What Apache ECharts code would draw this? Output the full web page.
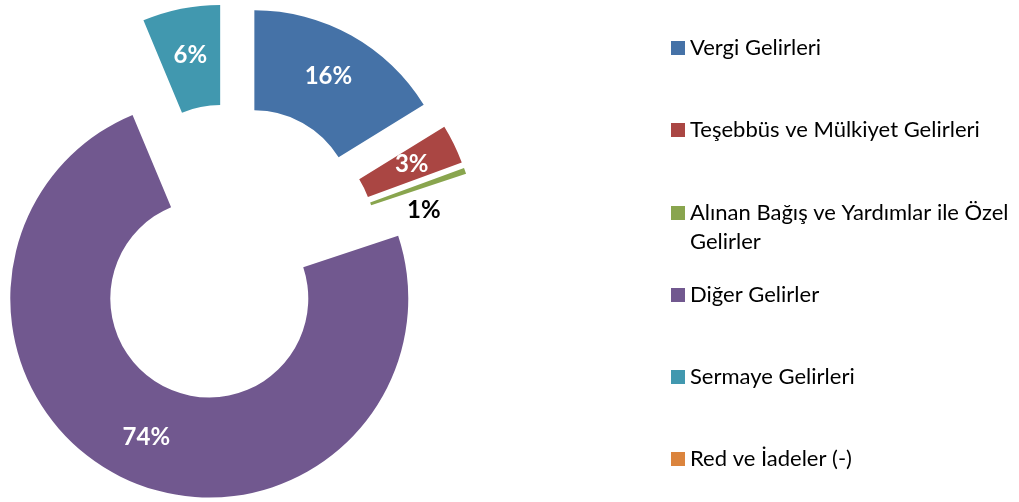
<!DOCTYPE html>
<html>
<head>
<meta charset="utf-8">
<script src="https://cdn.jsdelivr.net/npm/echarts@6/dist/echarts.min.js"></script>
<style>
  html, body { margin: 0; padding: 0; background: #fff; }
  #chart { width: 1019px; height: 502px; }
</style>
</head>
<body>
<div id="chart"></div>
<script>
// gelir kalemleri (pay, %)
const names = [
  'Vergi Gelirleri',
  'Teşebbüs ve Mülkiyet Gelirleri',
  'Alınan Bağış ve Yardımlar ile Özel Gelirler',
  'Diğer Gelirler',
  'Sermaye Gelirleri',
  'Red ve İadeler (-)'
]
const values = [16.2, 3.2, 0.5, 73.8, 6.3, 0]
const colors = ['#4572A7', '#AA4643', '#89A54E', '#71588F', '#4198AF', '#DB843D']

// legend satırlarının dikey ortası
const legendY = [48, 130, 213, 295, 377, 459]

const font = 'Lato, "Open Sans", sans-serif'

const data = names.map((name, i) => {
  const item = { name, value: values[i], selected: true, itemStyle: { color: colors[i] } }
  if (i === 2) {
    // küçük dilim: etiket dışarıda, siyah
    item.label = { position: 'outside', color: '#000' }
    item.labelLine = { show: false, length: 0, length2: 0 }
  }
  if (values[i] === 0) item.label = { show: false }
  return item
})

const legends = names.map((name, i) => {
  const twoLine = i === 2
  return {
    data: [name],
    orient: 'vertical',
    left: 671,
    top: twoLine ? legendY[i] - 43.5 : legendY[i] - 13,
    padding: 0,
    icon: 'rect',
    itemWidth: 14,
    itemHeight: 14,
    selectedMode: false,
    // boş ilk satır: ilk satır ikonla aynı hizada kalsın
    formatter: twoLine ? ' \nAlınan Bağış ve Yardımlar ile Özel\nGelirler' : '{name}',
    textStyle: { fontFamily: font, fontSize: 22, color: '#000', lineHeight: twoLine ? 29 : 26 }
  }
})

const options = {
  animation: false,
  legend: legends,
  series: [
    {
      type: 'pie',
      center: [230, 253],
      radius: [99, 199],
      startAngle: 90,
      clockwise: true,
      selectedMode: 'multiple',
      selectedOffset: 50,
      avoidLabelOverlap: false,
      percentPrecision: 0,
      label: {
        show: true,
        position: 'inside',
        formatter: '{d}%',
        color: '#fff',
        fontFamily: font,
        fontSize: 24,
        fontWeight: 'bold'
      },
      labelLine: { show: false },
      labelLayout: function (params) {
        if (params.dataIndex === 2) return { dx: -63, dy: 39 }
      },
      emphasis: { disabled: true },
      data
    }
  ]
}

const chart = echarts.init(document.getElementById('chart'))
chart.setOption(options)
window.addEventListener('resize', function () {
  chart && chart.resize()
})
</script>
</body>
</html>
